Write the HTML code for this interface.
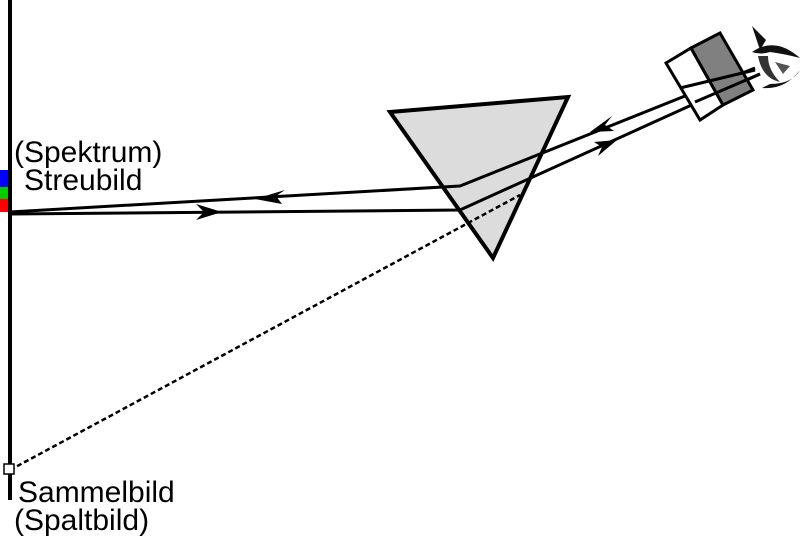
<!DOCTYPE html>
<html><head><style>
body{margin:0;background:#fff;width:800px;height:540px;overflow:hidden}
svg{display:block}
text{font-family:"Liberation Sans",Arial,sans-serif;font-size:30px;fill:#000}
</style></head><body>
<svg width="800" height="540" viewBox="0 0 800 540">
<rect x="0" y="170" width="12" height="17" fill="#0000ff"/>
<rect x="0" y="187" width="12" height="12" fill="#00cc00"/>
<rect x="0" y="199" width="12" height="13" fill="#ff0000"/>
<line x1="10" y1="0" x2="10" y2="500" stroke="#000" stroke-width="4"/>
<polygon points="390,112 568,97 493,258" fill="#dcdcdc" stroke="#000" stroke-width="4"/>
<line x1="10" y1="470" x2="520" y2="195" stroke="#000" stroke-width="2.5" stroke-dasharray="5,3"/>
<rect x="4" y="464" width="10" height="10" fill="#fff" stroke="#000" stroke-width="1.5"/>
<polyline points="10,212 460,186 755,68" fill="none" stroke="#000" stroke-width="3"/>
<polyline points="10,214 460,210 760,74" fill="none" stroke="#000" stroke-width="3"/>
<polygon points="255,199 285,190 276,196 282,204" fill="#000"/>
<polygon points="590,132 612,116 605,125 614,131" fill="#000"/>
<polygon points="222,212 196,204 204,212 196,220" fill="#000"/>
<polygon points="617,140 594,142 602,147 598,156" fill="#000"/>
<polygon points="666,63 691,48 723,105 700,120" fill="#fff" stroke="#000" stroke-width="3"/>
<polygon points="691,48 720,33 753,90 723,105" fill="#808080" stroke="#000" stroke-width="3"/>
<line x1="680" y1="88" x2="755" y2="70" stroke="#000" stroke-width="3"/>
<line x1="695" y1="102" x2="760" y2="74" stroke="#000" stroke-width="3"/>
<!-- eye -->
<path d="M752,52 Q775,36 800,58 Q785,54 770,52 Q760,55 752,52Z" fill="#111"/>
<path d="M758,56 Q762,78 780,82 Q768,70 768,56Z" fill="#333"/>
<path d="M762,88 Q785,90 800,70 Q792,84 770,84Z" fill="#111"/>
<path d="M752,26 L760,50 L766,40Z" fill="#111"/>
<path d="M775,62 L790,66 L783,74Z" fill="#555"/>
<text x="14" y="162">(Spektrum)</text>
<text x="24" y="190">Streubild</text>
<text x="18" y="502">Sammelbild</text>
<text x="14" y="530">(Spaltbild)</text>
</svg>
</body></html>
